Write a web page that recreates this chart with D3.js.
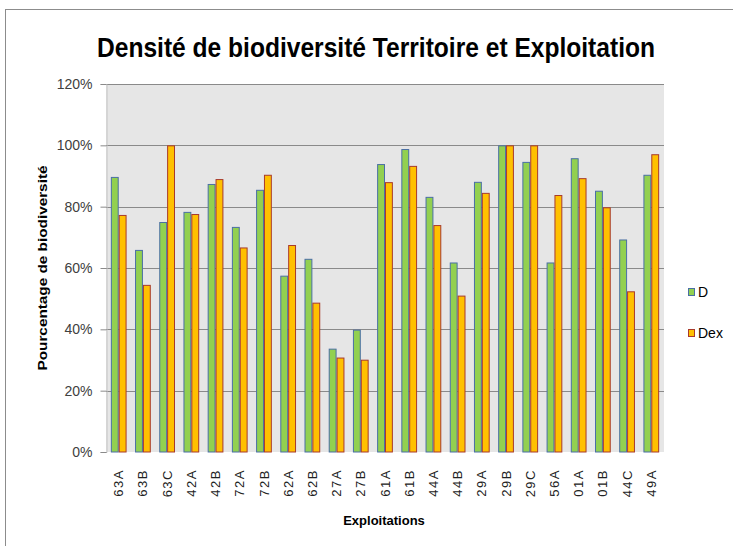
<!DOCTYPE html>
<html>
<head>
<meta charset="utf-8">
<script src="https://cdn.jsdelivr.net/npm/d3@7"></script>
<style>
  body { margin: 0; background: #fff; }
  text { font-family: "Liberation Sans", "DejaVu Sans", sans-serif; }
</style>
</head>
<body>
<div id="d3-container"></div>
<script>
/**
 * CONSTANTS AND GLOBALS
 * */
const width = 733,
  height = 546,
  margin = { top: 84, bottom: 94, left: 106, right: 69 };

// DATA
const exploitations = ["63A", "63B", "63C", "42A", "42B", "72A", "72B", "62A", "62B", "27A", "27B", "61A",
  "61B", "44A", "44B", "29A", "29B", "29C", "56A", "01A", "01B", "44C", "49A"];
const densiteD = [89.7, 65.9, 75.0, 78.3, 87.4, 73.4, 85.5, 57.5, 63.0, 33.7, 39.9, 93.9,
  98.8, 83.2, 61.8, 88.1, 100, 94.6, 61.8, 95.8, 85.2, 69.3, 90.4];
const densiteDex = [77.3, 54.5, 100, 77.6, 89.0, 66.7, 90.4, 67.5, 48.7, 30.8, 30.1, 88.0,
  93.3, 74.0, 51.0, 84.5, 100, 100, 83.8, 89.3, 79.8, 52.4, 97.1];
const yTicks = [0, 20, 40, 60, 80, 100, 120];
const seriesNames = ["D", "Dex"];
const seriesColors = ["#92d050", "#ffc000"];
const seriesStrokes = ["#4a6fa5", "#a83a2c"];

const rows = exploitations.map((e, i) => ({ name: e, D: densiteD[i], Dex: densiteDex[i] }));

const svg = d3.select("#d3-container")
  .append("svg")
  .attr("width", width)
  .attr("height", height);

// chart border
svg.append("rect")
  .attr("x", 5.5).attr("y", 9.5)
  .attr("width", width + 10).attr("height", height + 10)
  .attr("fill", "#fff")
  .attr("stroke", "#8c8c8c");

/** SCALES */
const xScale = d3.scaleBand()
  .domain(exploitations)
  .range([margin.left, width - margin.right])
  .paddingInner(0.35)
  .paddingOuter(0.2);

const xInner = d3.scaleBand()
  .domain(seriesNames)
  .range([0, xScale.bandwidth()]);

const yScale = d3.scaleLinear()
  .domain([0, 120])
  .range([height - margin.bottom, margin.top]);

// plot area
svg.append("rect")
  .attr("x", margin.left)
  .attr("y", margin.top)
  .attr("width", width - margin.right - margin.left)
  .attr("height", height - margin.bottom - margin.top)
  .attr("fill", "#e6e6e6");

// gridlines
svg.append("g")
  .selectAll("line")
  .data(yTicks.filter(d => d > 0))
  .join("line")
  .attr("x1", margin.left)
  .attr("x2", width - margin.right)
  .attr("y1", d => Math.round(yScale(d)) + 0.5)
  .attr("y2", d => Math.round(yScale(d)) + 0.5)
  .attr("stroke", "#8a8a8a");

// y axis
const yAxis = d3.axisLeft(yScale)
  .tickValues(yTicks)
  .tickSize(6)
  .tickPadding(8)
  .tickFormat(d => d + "%");

const gy = svg.append("g")
  .attr("transform", `translate(${margin.left + 0.5}, 0)`)
  .call(yAxis);
gy.select(".domain").attr("stroke", "#c4c4c4");
gy.selectAll(".tick line").attr("stroke", "#8a8a8a");
gy.selectAll(".tick text")
  .attr("font-size", 14)
  .attr("font-family", "Liberation Sans Narrow, Liberation Sans, sans-serif")
  .attr("fill", "#404040");

// bars
const groups = svg.append("g")
  .selectAll("g")
  .data(rows)
  .join("g")
  .attr("transform", d => `translate(${xScale(d.name)}, 0)`);

seriesNames.forEach((s, k) => {
  groups.append("rect")
    .attr("x", xInner(s) + 0.5)
    .attr("y", d => yScale(d[s]) + 0.5)
    .attr("width", xInner.bandwidth() - 1)
    .attr("height", d => yScale(0) - yScale(d[s]) - 0.5)
    .attr("fill", seriesColors[k])
    .attr("stroke", seriesStrokes[k]);
});

// x axis labels
const xAxis = d3.axisBottom(xScale).tickSize(0).tickPadding(0);
const gx = svg.append("g")
  .attr("transform", `translate(0, ${height - margin.bottom})`)
  .call(xAxis);
gx.select(".domain").remove();
gx.selectAll(".tick text")
  .attr("transform", "rotate(-90)")
  .attr("text-anchor", "end")
  .attr("x", -17)
  .attr("y", 0)
  .attr("dy", "0.35em")
  .attr("font-size", 13)
  .attr("letter-spacing", 1.5)
  .attr("font-family", "Liberation Sans, sans-serif")
  .attr("fill", "#222");

// titles
svg.append("text")
  .attr("x", 376)
  .attr("y", 57)
  .attr("text-anchor", "middle")
  .attr("font-size", 28)
  .attr("font-weight", "bold")
  .attr("textLength", 558)
  .attr("lengthAdjust", "spacingAndGlyphs")
  .text("Densité de biodiversité Territoire et Exploitation");

svg.append("text")
  .attr("x", 384)
  .attr("y", 525)
  .attr("text-anchor", "middle")
  .attr("font-size", 13)
  .attr("font-weight", "bold")
  .text("Exploitations");

svg.append("text")
  .attr("transform", "translate(42, 268) rotate(-90)")
  .attr("text-anchor", "middle")
  .attr("dy", "0.35em")
  .attr("font-size", 13)
  .attr("font-weight", "bold")
  .attr("textLength", 205)
  .attr("lengthAdjust", "spacingAndGlyphs")
  .text("Pourcentage de biodiversité");

// legend
const legend = svg.append("g")
  .selectAll("g")
  .data(seriesNames)
  .join("g")
  .attr("transform", (d, i) => `translate(688, ${292 + i * 41})`);

legend.append("rect")
  .attr("x", 0.5).attr("y", -3.5)
  .attr("width", 6).attr("height", 7)
  .attr("fill", (d, i) => seriesColors[i])
  .attr("stroke", (d, i) => seriesStrokes[i]);

legend.append("text")
  .attr("x", 10)
  .attr("dy", "0.35em")
  .attr("font-size", 14)
  .text(d => d);
</script>
</body>
</html>
